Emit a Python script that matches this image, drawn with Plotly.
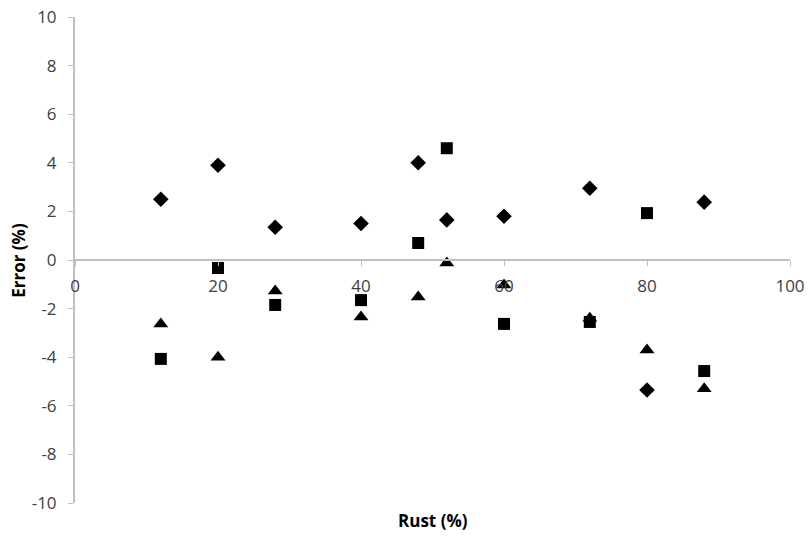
import plotly.graph_objects as go

rust = [12, 20, 28, 40, 48, 52, 60, 72, 80, 88]
err_diamond = [2.5, 3.9, 1.35, 1.5, 4.0, 1.65, 1.8, 2.95, -5.35, 2.38]
err_square = [-4.07, -0.33, -1.85, -1.65, 0.7, 4.6, -2.63, -2.55, 1.93, -4.57]
err_triangle = [-2.63, -4.0, -1.28, -2.35, -1.52, -0.12, -1.03, -2.4, -3.7, -5.3]

x_ticks = [0, 20, 40, 60, 80, 100]
y_ticks = [-10, -8, -6, -4, -2, 0, 2, 4, 6, 8, 10]
y_tick_labels = [str(v) for v in y_ticks]
x_tick_labels = [str(v) for v in x_ticks]

fig = go.Figure()
fig.add_trace(go.Scatter(x=rust, y=err_diamond, mode="markers",
                         marker=dict(symbol="diamond", size=12, color="black"), name="A"))
fig.add_trace(go.Scatter(x=rust, y=err_square, mode="markers",
                         marker=dict(symbol="square", size=12, color="black"), name="B"))
fig.add_trace(go.Scatter(x=rust, y=err_triangle, mode="markers",
                         marker=dict(symbol="triangle-up", size=13, color="black"), name="C"))

axis_color = "#bfbfbf"
font_fam = "Open Sans, Liberation Sans, sans-serif"
tick_font = dict(family=font_fam, size=17, color="#404040")

fig.update_layout(
    width=812, height=538,
    margin=dict(l=75, r=22, t=17, b=35, autoexpand=False),
    paper_bgcolor="white", plot_bgcolor="white",
    showlegend=False,
    xaxis=dict(range=[0, 100], tickvals=x_ticks, ticktext=x_tick_labels,
               showgrid=False, zeroline=False, automargin=False,
               showline=True, linecolor=axis_color, linewidth=2,
               ticks="outside", ticklen=5, tickcolor=axis_color,
               ticklabelstandoff=6,
               anchor="free", position=0.5, tickfont=tick_font),
    yaxis=dict(range=[-10, 10], tickvals=y_ticks, ticktext=y_tick_labels,
               showgrid=False, zeroline=False, automargin=False,
               showline=True, linecolor=axis_color, linewidth=2,
               ticks="outside", ticklen=5, tickcolor=axis_color,
               ticklabelstandoff=8,
               tickfont=tick_font),
    annotations=[
        dict(text="<b>Rust (%)</b>", x=0.5, y=-0.037, xref="paper", yref="paper",
             xanchor="center", yanchor="middle", showarrow=False,
             font=dict(family=font_fam, size=17, color="black")),
        dict(text="<b>Error (%)</b>", x=-0.08, y=0.5, xref="paper", yref="paper",
             xanchor="center", yanchor="middle", showarrow=False, textangle=-90,
             font=dict(family=font_fam, size=17, color="black")),
    ],
)

fig.write_html("out.html")
